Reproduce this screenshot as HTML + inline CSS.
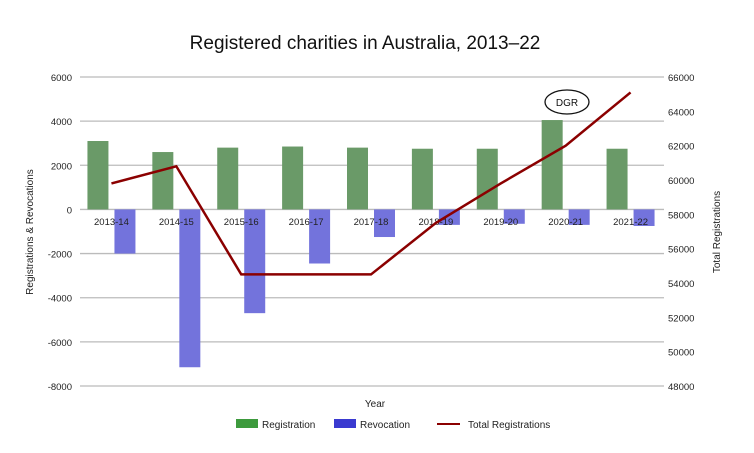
<!DOCTYPE html>
<html><head><meta charset="utf-8"><style>
body{margin:0;background:#fff;width:754px;height:448px;overflow:hidden}
svg{font-family:"Liberation Sans",sans-serif}
</style></head><body>
<svg id="c" width="754" height="448">
<text x="365" y="49" text-anchor="middle" font-size="19" fill="#111">Registered charities in Australia, 2013–22</text>
<text transform="translate(33,232) rotate(-90)" text-anchor="middle" font-size="10" fill="#222">Registrations &amp; Revocations</text>
<text transform="translate(720,232) rotate(-90)" text-anchor="middle" font-size="10" fill="#222">Total Registrations</text>
<text x="375" y="407" text-anchor="middle" font-size="10" fill="#222">Year</text>
<g>
<rect x="236" y="419" width="22" height="9" fill="#3d9a3d"/>
<text x="262" y="428" font-size="10" fill="#222">Registration</text>
<rect x="334" y="419" width="22" height="9" fill="#3a3ad0"/>
<text x="360" y="428" font-size="10" fill="#222">Revocation</text>
<line x1="437" y1="424" x2="460" y2="424" stroke="#8b0000" stroke-width="2"/>
<text x="468" y="428" font-size="10" fill="#222">Total Registrations</text>
</g>
<g id="grid"></g><g id="bars"></g><g id="labels"></g><g id="line"></g>
<g>
<ellipse cx="567" cy="102" rx="22" ry="12" fill="#fff" stroke="#111" stroke-width="1.3"/>
<text x="567" y="106" text-anchor="middle" font-size="10" fill="#111">DGR</text>
</g>
</svg>
<script>
const categories=["2013-14","2014-15","2015-16","2016-17","2017-18","2018-19","2019-20","2020-21","2021-22"];
const registrations=[3100,2600,2800,2850,2800,2750,2750,4050,2750];
const revocations=[-2000,-7150,-4700,-2450,-1250,-700,-650,-700,-750];
const totals=[59800,60800,54500,54500,54500,57500,59800,62000,65100];
const leftTicks=[6000,4000,2000,0,-2000,-4000,-6000,-8000];
const rightTicks=[66000,64000,62000,60000,58000,56000,54000,52000,50000,48000];
const NS="http://www.w3.org/2000/svg";
const plotTop=77,plotBot=386,x0=80,x1=664;
const yL=v=>plotTop+(6000-v)/14000*(plotBot-plotTop);
const yR=v=>plotTop+(66000-v)/18000*(plotBot-plotTop);
const band=(x1-x0)/categories.length;
const xC=i=>x0+band*(i+0.5)-1;
function mk(t,a,p){const e=document.createElementNS(NS,t);for(const k in a)e.setAttribute(k,a[k]);p.appendChild(e);return e;}
const g=document.getElementById('grid'),lb=document.getElementById('labels'),b=document.getElementById('bars'),ln=document.getElementById('line');
leftTicks.forEach(v=>{
 const l=mk('line',{x1:x0,x2:x1,y1:yL(v),y2:yL(v),stroke:'#bbb','stroke-width':1.3},g);
 
 
 const t=mk('text',{x:72,y:yL(v)+4,'text-anchor':'end','font-size':9.5,fill:'#222'},g);t.textContent=v;
 
 
});
rightTicks.forEach(v=>{
 const t=mk('text',{x:668,y:yR(v)+4,'font-size':9.5,fill:'#222'},g);t.textContent=v;
 
 
});
categories.forEach((c,i)=>{
 const t=mk('text',{x:xC(i),y:225,'text-anchor':'middle','font-size':9.5,fill:'#222'},lb);t.textContent=c;
 
 
 const r=registrations[i];
 const gr=mk('rect',{x:xC(i)-24,y:yL(r),width:21,height:yL(0)-yL(r),fill:'#6a9a68'},b);
 
 
 const v=revocations[i];
 const br=mk('rect',{x:xC(i)+3,y:yL(0),width:21,height:yL(v)-yL(0),fill:'#7373dc'},b);
 
 
});
const pl=mk('polyline',{points:totals.map((v,i)=>xC(i)+','+yR(v)).join(' '),fill:'none',stroke:'#8b0000','stroke-width':2.5},ln);


</script>
</body></html>
